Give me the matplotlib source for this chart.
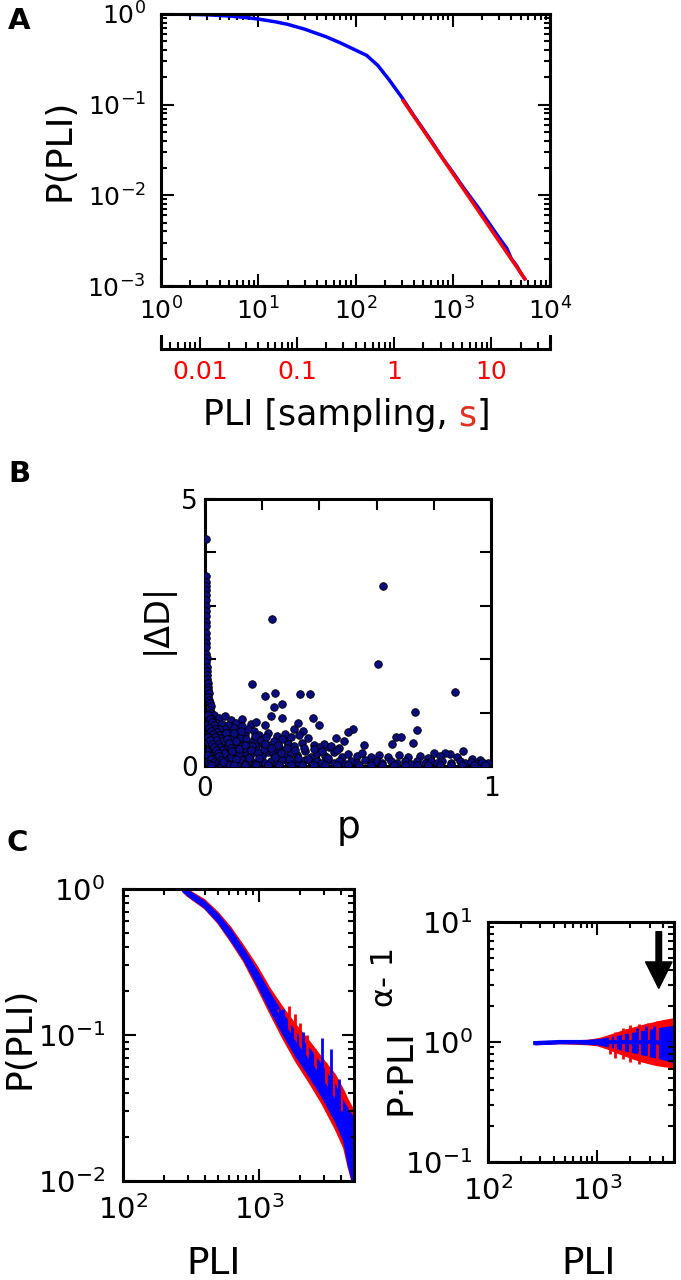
import numpy as np
import matplotlib
matplotlib.use("Agg")
import matplotlib.pyplot as plt
from matplotlib.ticker import NullFormatter

# ---- panel A : distribution of PLI with power law fit ----
a_pli = [1, 2, 3, 5, 7, 10, 15, 20, 30, 50, 70, 100, 130, 170, 220, 300,
         400, 600, 800, 1000, 1300, 1800, 2400, 3000, 3600, 4000, 4500, 5000, 5500]
a_prob = [1.0, 0.99, 0.98, 0.95, 0.92, 0.88, 0.82, 0.77, 0.68, 0.56, 0.48, 0.40,
          0.35, 0.27, 0.19, 0.12, 0.075, 0.040, 0.025, 0.018, 0.012, 0.0075,
          0.0048, 0.0034, 0.0026, 0.0020, 0.0017, 0.0014, 0.0012]
fit_pli = [310, 5500]
fit_prob = [0.11, 0.0012]
fs = 250.0  # sampling rate, Hz
sec_ticks = [0.01, 0.1, 1, 10]
sec_labels = ["0.01", "0.1", "1", "10"]

# ---- panel B : |dD| against p ----
edge_p = [0.003, 0.004, 0.003, 0.004, 0.005, 0.003, 0.004, 0.003, 0.004, 0.005,
          0.003, 0.004, 0.005, 0.004, 0.003, 0.005, 0.004, 0.006, 0.005, 0.007,
          0.006, 0.008, 0.007, 0.009, 0.010, 0.012, 0.015, 0.011, 0.014, 0.018,
          0.020, 0.016, 0.022]
edge_d = [4.25, 3.55, 3.45, 3.38, 3.30, 3.20, 3.10, 3.00, 2.90, 2.80,
          2.70, 2.62, 2.50, 2.40, 2.30, 2.22, 2.10, 2.02, 1.95, 1.85,
          1.78, 1.70, 1.62, 1.55, 1.48, 1.42, 1.36, 1.30, 1.24, 1.18,
          1.12, 1.05, 1.00]
out_p = [0.623, 0.234, 0.606, 0.874, 0.166, 0.209, 0.245, 0.331, 0.368, 0.240,
         0.270, 0.741, 0.735, 0.378, 0.400, 0.326, 0.312, 0.342, 0.516, 0.500,
         0.459, 0.286, 0.556, 0.667, 0.685, 0.654, 0.727, 0.485, 0.435, 0.417,
         0.903, 0.857, 0.932, 0.962, 0.800, 0.840]
out_d = [3.38, 2.75, 1.91, 1.38, 1.53, 1.31, 1.36, 1.34, 1.35, 1.11,
         1.17, 0.67, 1.01, 0.89, 0.77, 0.81, 0.69, 0.66, 0.70, 0.63,
         0.53, 0.47, 0.39, 0.54, 0.54, 0.42, 0.43, 0.46, 0.36, 0.41,
         0.28, 0.22, 0.14, 0.11, 0.25, 0.24]
mid_p = [0.03, 0.05, 0.07, 0.09, 0.11, 0.13, 0.16, 0.18, 0.21, 0.23, 0.27, 0.04,
         0.025, 0.06, 0.08, 0.02, 0.04, 0.05, 0.07, 0.09, 0.10, 0.12, 0.14, 0.15,
         0.17, 0.19, 0.22, 0.25, 0.28, 0.30, 0.33, 0.36, 0.03, 0.06, 0.11, 0.13,
         0.02, 0.03, 0.05, 0.07, 0.08, 0.10, 0.12, 0.13, 0.15, 0.17, 0.18, 0.20,
         0.22, 0.24, 0.26, 0.29, 0.31, 0.34, 0.38, 0.40, 0.44, 0.47, 0.04, 0.09,
         0.27]
mid_d = [0.95, 0.90, 0.93, 0.86, 0.80, 0.88, 0.78, 0.82, 0.76, 0.94, 0.89, 0.80,
         0.85, 0.78, 0.76, 0.72, 0.68, 0.62, 0.70, 0.64, 0.72, 0.66, 0.60, 0.70,
         0.65, 0.58, 0.62, 0.56, 0.60, 0.55, 0.58, 0.52, 0.58, 0.55, 0.57, 0.74,
         0.50, 0.44, 0.48, 0.40, 0.50, 0.45, 0.38, 0.50, 0.42, 0.48, 0.37, 0.44,
         0.40, 0.46, 0.36, 0.42, 0.38, 0.44, 0.40, 0.35, 0.38, 0.33, 0.36, 0.35,
         0.50]
low_p = [0.015, 0.03, 0.05, 0.06, 0.08, 0.10, 0.11, 0.13, 0.14, 0.16, 0.18, 0.20,
         0.22, 0.24, 0.26, 0.28, 0.30, 0.32, 0.35, 0.37, 0.39, 0.42, 0.45, 0.48,
         0.50, 0.53, 0.55, 0.58, 0.61, 0.64, 0.68, 0.71, 0.75, 0.78, 0.82, 0.88,
         0.01, 0.025, 0.04, 0.055, 0.07, 0.085, 0.10, 0.115, 0.13, 0.145, 0.16,
         0.175, 0.19, 0.21, 0.23, 0.25, 0.27, 0.29, 0.31, 0.33, 0.35, 0.37, 0.39,
         0.41, 0.43, 0.45, 0.47, 0.49, 0.51, 0.53, 0.56, 0.58, 0.60, 0.62, 0.65,
         0.67, 0.70, 0.72, 0.74, 0.77, 0.79, 0.81, 0.83, 0.86, 0.89, 0.91, 0.93,
         0.95, 0.97, 0.99]
low_d = [0.30, 0.25, 0.32, 0.20, 0.28, 0.22, 0.30, 0.18, 0.27, 0.22, 0.30, 0.19,
         0.26, 0.21, 0.30, 0.18, 0.25, 0.20, 0.28, 0.17, 0.24, 0.19, 0.26, 0.16,
         0.22, 0.18, 0.25, 0.16, 0.21, 0.17, 0.20, 0.16, 0.19, 0.15, 0.18, 0.16,
         0.10, 0.06, 0.12, 0.05, 0.11, 0.04, 0.09, 0.05, 0.12, 0.06, 0.10,
         0.04, 0.11, 0.06, 0.10, 0.05, 0.12, 0.07, 0.10, 0.05, 0.12, 0.07, 0.10,
         0.05, 0.11, 0.06, 0.09, 0.04, 0.10, 0.06, 0.11, 0.05, 0.09, 0.06, 0.10,
         0.05, 0.09, 0.04, 0.10, 0.06, 0.09, 0.05, 0.10, 0.06, 0.09, 0.05, 0.08,
         0.04, 0.07, 0.05]
dense_p = [0.015, 0.02, 0.025, 0.035, 0.045, 0.05, 0.055, 0.065, 0.075, 0.08,
           0.095, 0.105, 0.12, 0.125, 0.135, 0.145, 0.155, 0.165, 0.175, 0.185,
           0.195, 0.205, 0.215, 0.235, 0.245, 0.255, 0.265, 0.285, 0.295, 0.315,
           0.325, 0.345, 0.36, 0.38, 0.41, 0.43, 0.46, 0.01, 0.01, 0.012, 0.02,
           0.03, 0.04, 0.06, 0.07, 0.09, 0.11, 0.14, 0.16, 0.19, 0.21, 0.23,
           0.02, 0.03, 0.05, 0.015, 0.02, 0.06, 0.10, 0.14, 0.18, 0.22, 0.26,
           0.30, 0.34, 0.38, 0.42, 0.46, 0.50, 0.54, 0.58, 0.62, 0.66, 0.70,
           0.74, 0.78, 0.82, 0.86, 0.90, 0.94, 0.98]
dense_d = [0.62, 0.40, 0.18, 0.52, 0.27, 0.70, 0.42, 0.33, 0.58, 0.16,
           0.52, 0.37, 0.24, 0.55, 0.33, 0.50, 0.15, 0.38, 0.56, 0.25,
           0.48, 0.32, 0.54, 0.28, 0.16, 0.40, 0.24, 0.33, 0.14, 0.30,
           0.15, 0.34, 0.14, 0.31, 0.28, 0.15, 0.30, 0.20, 0.45, 0.78, 0.90,
           0.35, 0.15, 0.45, 0.24, 0.17, 0.14, 0.40, 0.30, 0.15, 0.42, 0.33,
           0.13, 0.08, 0.09, 0.04, 0.02, 0.02, 0.01, 0.02, 0.02, 0.01, 0.02,
           0.02, 0.01, 0.02, 0.02, 0.01, 0.02, 0.02, 0.01, 0.02, 0.02, 0.01,
           0.02, 0.02, 0.01, 0.02, 0.02, 0.01, 0.02]
# extra points filling the dark mass near p = 0
corner_p = [0.012, 0.018, 0.024, 0.030, 0.036, 0.042, 0.048, 0.054, 0.060,
            0.014, 0.022, 0.028, 0.034, 0.040, 0.046, 0.052, 0.058, 0.066,
            0.010, 0.016, 0.026, 0.032, 0.038, 0.044, 0.050, 0.056, 0.064,
            0.072, 0.078, 0.084, 0.090, 0.096, 0.102, 0.110, 0.118, 0.126]
corner_d = [0.95, 0.88, 0.82, 0.76, 0.70, 0.64, 0.58, 0.52, 0.46,
            0.72, 0.66, 0.60, 0.54, 0.48, 0.42, 0.36, 0.30, 0.24,
            0.55, 0.48, 0.42, 0.36, 0.30, 0.24, 0.18, 0.12, 0.08,
            0.62, 0.50, 0.44, 0.34, 0.28, 0.62, 0.46, 0.32, 0.66]

# ---- panel C left : P(PLI) of the data (blue) and surrogates (red) ----
c_pli = [274, 295, 395, 493, 615, 767, 957, 1194, 1490, 1855, 2310, 2890,
         3600, 4170, 4500, 4830, 5000]
c_blue = [1.0, 0.95, 0.79, 0.64, 0.49, 0.36, 0.25, 0.17, 0.119, 0.086, 0.066,
          0.0485, 0.035, 0.026, 0.021, 0.016, 0.012]
c_blue_hi = [1.03, 0.99, 0.83, 0.68, 0.53, 0.39, 0.28, 0.195, 0.14, 0.104,
             0.082, 0.062, 0.046, 0.035, 0.031, 0.028, 0.026]
c_blue_lo = [0.97, 0.91, 0.75, 0.60, 0.45, 0.33, 0.225, 0.15, 0.102, 0.072,
             0.053, 0.038, 0.026, 0.019, 0.013, 0.010, 0.009]
c_red_hi = [1.04, 1.0, 0.85, 0.70, 0.55, 0.41, 0.30, 0.21, 0.155, 0.118,
            0.092, 0.070, 0.054, 0.042, 0.036, 0.032, 0.030]
c_red_lo = [0.96, 0.90, 0.74, 0.59, 0.44, 0.32, 0.215, 0.142, 0.095, 0.066,
            0.048, 0.034, 0.023, 0.017, 0.0125, 0.0098, 0.009]
c_rspk_x = [1350, 1660, 1850, 2000, 2250, 2600, 3100, 3500, 4000]
c_rspk_top = [0.15, 0.158, 0.14, 0.12, 0.10, 0.08, 0.064, 0.05, 0.04]
c_rspk_bot = [0.13, 0.10, 0.086, 0.078, 0.068, 0.057, 0.045, 0.037, 0.030]
c_bspk_x = [1500, 2100, 2900, 3390, 3900]
c_bspk_top = [0.15, 0.105, 0.096, 0.08, 0.05]
c_bspk_bot = [0.12, 0.075, 0.05, 0.04, 0.03]

# ---- panel C right : P * PLI^(alpha-1) ----
r_pli = [270, 350, 450, 600, 800, 1000, 1200, 1500, 1800, 2200, 2700, 3300,
         4000, 4700, 5000]
r_blue = [0.98, 0.99, 1.0, 1.0, 1.0, 1.01, 1.0, 1.0, 1.0, 0.99, 1.0, 1.0,
          0.98, 0.97, 0.97]
r_blue_hi = [1.0, 1.01, 1.02, 1.02, 1.03, 1.05, 1.08, 1.12, 1.16, 1.20, 1.24,
             1.28, 1.32, 1.35, 1.36]
r_blue_lo = [0.96, 0.97, 0.98, 0.98, 0.97, 0.96, 0.93, 0.89, 0.85, 0.82, 0.78,
             0.75, 0.72, 0.69, 0.68]
r_red_hi = [1.0, 1.01, 1.02, 1.03, 1.04, 1.07, 1.12, 1.20, 1.27, 1.33, 1.40,
            1.46, 1.52, 1.56, 1.58]
r_red_lo = [0.96, 0.97, 0.98, 0.97, 0.96, 0.94, 0.89, 0.82, 0.77, 0.72, 0.68,
            0.65, 0.63, 0.62, 0.61]
r_rspk_x = [1300, 1450, 1700, 2000, 2400, 2900, 3500]
r_rspk_lo = [0.80, 0.74, 0.72, 0.68, 0.66, 0.70, 0.66]
r_rspk_hi = [1.15, 1.22, 1.30, 1.38, 1.42, 1.45, 1.50]
r_bspk_x = [2300, 2800, 3300]
r_bspk_lo = [0.82, 0.78, 0.75]
r_bspk_hi = [1.30, 1.35, 1.37]
arrow_pli = 3630

W, H = 681, 1280
fig = plt.figure(figsize=(W / 100, H / 100), dpi=100)


def px_axes(l, t, r, b):
    # axes from pixel box (top-down pixel coordinates)
    return fig.add_axes([l / W, 1 - b / H, (r - l) / W, (b - t) / H])


def ftext(x, y, s, **kw):
    return fig.text(x / W, 1 - y / H, s, **kw)


def style(ax, size, padx, pady, major=8, minor=4):
    for sp in ax.spines.values():
        sp.set_linewidth(2.2)
    ax.tick_params(which="both", direction="in", top=True, right=True, width=1.5)
    ax.tick_params(which="major", length=major)
    ax.tick_params(which="minor", length=minor)
    ax.tick_params(axis="x", labelsize=size, pad=padx)
    ax.tick_params(axis="y", labelsize=size, pad=pady)


# panel A
axA = px_axes(161, 14, 550, 286)
axA.plot(a_pli, a_prob, color="blue", lw=2.5)
axA.plot(fit_pli, fit_prob, color="red", lw=2.5)
axA.set_xscale("log")
axA.set_yscale("log")
axA.set_xlim(1, 1e4)
axA.set_ylim(1e-3, 1)
axA.xaxis.set_minor_formatter(NullFormatter())
axA.yaxis.set_minor_formatter(NullFormatter())
style(axA, 18, 8, 11, major=9, minor=4.5)

# second time axis in seconds
axS = px_axes(161, 336, 550, 349)
axS.set_xscale("log")
axS.set_xlim(1 / fs, 1e4 / fs)
axS.patch.set_alpha(0)
axS.spines["top"].set_visible(False)
for sp in axS.spines.values():
    sp.set_linewidth(2.2)
axS.set_yticks([])
axS.set_xticks(sec_ticks)
axS.set_xticklabels(sec_labels)
axS.xaxis.set_minor_formatter(NullFormatter())
axS.tick_params(which="both", direction="in", width=1.5, labelsize=18,
                labelcolor="red", pad=8)
axS.tick_params(which="major", length=9)
axS.tick_params(which="minor", length=5)

# x label with a red "s"
t1 = ftext(203, 425, "PLI [sampling, ", fontsize=25, va="baseline")
t2 = axA.annotate("s", xy=(1, 0), xycoords=t1, va="bottom", ha="left",
                  fontsize=25, color="#e03020")
axA.annotate("]", xy=(1, 0), xycoords=t2, va="bottom", ha="left", fontsize=25)
ftext(69, 150, "P(PLI)", fontsize=26, rotation=90, ha="center",
      va="baseline", rotation_mode="anchor")

# panel B
axB = px_axes(205, 499, 491, 766)
axB.scatter(edge_p + out_p + mid_p + low_p + dense_p + corner_p,
            edge_d + out_d + mid_d + low_d + dense_d + corner_d,
            s=30, c="#0c0c80", edgecolors="black", linewidths=0.6, zorder=3)
axB.set_xlim(0, 1)
axB.set_ylim(0, 5)
axB.set_xticks([0, 0.2, 0.4, 0.6, 0.8, 1])
axB.set_xticklabels(["0", "", "", "", "", "1"])
axB.set_yticks([0, 1, 2, 3, 4, 5])
axB.set_yticklabels(["0", "", "", "", "", "5"])
style(axB, 19, 7, 5, major=8)
ftext(166, 618, "|ΔD|", fontsize=24, rotation=90, ha="center",
      va="baseline", rotation_mode="anchor")
ftext(348, 838, "p", fontsize=27, ha="center", va="baseline")

# panel C left
axC = px_axes(123, 889, 354, 1181)
axC.fill_between(c_pli, c_red_lo, c_red_hi, color="red", lw=1)
axC.vlines(c_rspk_x, c_rspk_bot, c_rspk_top, color="red", lw=2)
axC.fill_between(c_pli, c_blue_lo, c_blue_hi, color="blue", lw=1)
axC.vlines(c_bspk_x, c_bspk_bot, c_bspk_top, color="blue", lw=2)
axC.plot(c_pli, c_blue, color="blue", lw=3)
axC.set_xscale("log")
axC.set_yscale("log")
axC.set_xlim(100, 5000)
axC.set_ylim(0.01, 1)
axC.xaxis.set_minor_formatter(NullFormatter())
axC.yaxis.set_minor_formatter(NullFormatter())
style(axC, 21, 10, 13, major=9, minor=4.5)
ftext(30, 1038, "P(PLI)", fontsize=26, rotation=90, ha="center",
      va="baseline", rotation_mode="anchor")
ftext(214, 1274, "PLI", fontsize=27, ha="center", va="baseline")

# panel C right
axR = px_axes(488, 922, 674, 1162)
axR.fill_between(r_pli, r_red_lo, r_red_hi, color="red", lw=1)
axR.vlines(r_rspk_x, r_rspk_lo, r_rspk_hi, color="red", lw=2)
axR.fill_between(r_pli, r_blue_lo, r_blue_hi, color="blue", lw=1)
axR.vlines(r_bspk_x, r_bspk_lo, r_bspk_hi, color="blue", lw=2)
axR.plot(r_pli, r_blue, color="blue", lw=3)
axR.annotate("", xy=(arrow_pli, 2.8), xytext=(arrow_pli, 8.3),
             arrowprops=dict(facecolor="black", edgecolor="black",
                             width=4, headwidth=19, headlength=19))
axR.set_xscale("log")
axR.set_yscale("log")
axR.set_xlim(100, 5000)
axR.set_ylim(0.1, 10)
axR.xaxis.set_minor_formatter(NullFormatter())
axR.yaxis.set_minor_formatter(NullFormatter())
style(axR, 21, 10, 11, major=9, minor=4.5)
ftext(410, 1115, "P·PLI", fontsize=26, rotation=90, ha="left",
      va="baseline", rotation_mode="anchor")
ftext(393, 1007, "α- 1", fontsize=22, rotation=90, ha="left",
      va="baseline", rotation_mode="anchor")
ftext(589, 1274, "PLI", fontsize=27, ha="center", va="baseline")

# panel letters
ftext(8, 7, "A", fontsize=21, fontweight="bold", va="top")
ftext(8, 460, "B", fontsize=21, fontweight="bold", va="top")
ftext(6, 829, "C", fontsize=21, fontweight="bold", va="top")

fig.savefig("out.png", dpi=100)
